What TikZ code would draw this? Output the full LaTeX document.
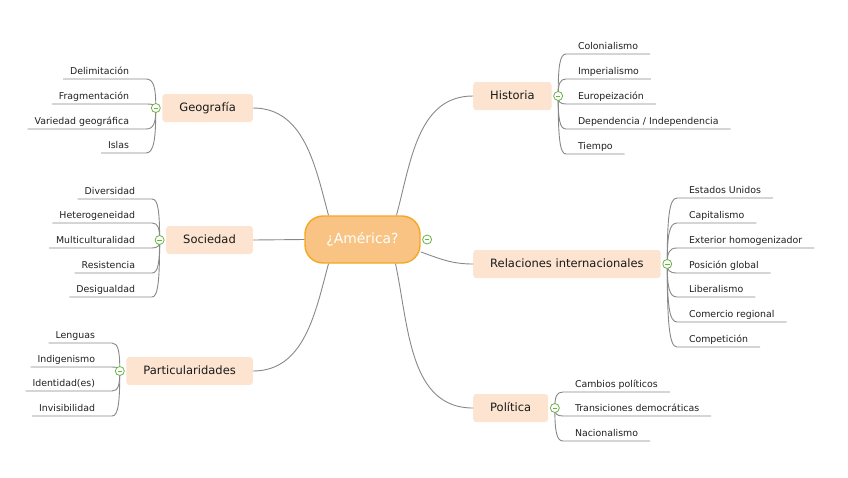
\documentclass[tikz,border=0pt]{standalone}
\usepackage{fontspec}
\setmainfont{DejaVu Sans}
\usetikzlibrary{positioning, calc}
\definecolor{rootfill}{HTML}{F9C483}
\definecolor{rootline}{HTML}{F5A623}
\definecolor{topicfill}{HTML}{FCE4D0}
\definecolor{linkgray}{HTML}{888888}
\definecolor{foldgreen}{HTML}{6AB344}
\definecolor{leaftext}{HTML}{1F1F1F}
\pgfdeclarelayer{background}
\pgfsetlayers{background,main}
\tikzset{
  root/.style={rectangle, rounded corners=18pt, draw=rootline, fill=rootfill, line width=1.4pt, text=white, font=\fontsize{13.9}{16}\selectfont, minimum width=115pt, minimum height=47pt},
  topic/.style={rectangle, rounded corners=3pt, fill=topicfill, text=black!90, font=\fontsize{11.5}{14}\selectfont, inner xsep=17pt, minimum height=28pt, text height=8.5pt, text depth=2.5pt},
  leaf/.style={text=leaftext, font=\fontsize{9.4}{11}\selectfont, inner ysep=2pt, outer sep=0pt, text height=7pt, text depth=2.5pt},
  leafL/.style={leaf, inner xsep=7pt, anchor=south east},
  leafR/.style={leaf, inner xsep=12pt, anchor=south west},
  fold/.style={circle, draw=foldgreen, fill=white, line width=0.8pt, minimum size=9pt, inner sep=0pt, path picture={\draw[foldgreen, line width=0.9pt] ([xshift=-2.3pt]path picture bounding box.center) -- ([xshift=2.3pt]path picture bounding box.center);}},
  link/.style={draw=linkgray, line width=0.9pt}
}
\newcommand{\fanlink}[3]{%
  \draw[link] (#1) .. controls ($(#1)!0.7!(#1 |- #2)$) and ($(#2)!0.8!(#1 |- #2)$) .. (#2) -- (#3);
}

\begin{document}
\begin{tikzpicture}[x=1pt, y=-1pt]
  \useasboundingbox (0,0) rectangle (848,477);

  % ROOT
  \node[root] (America) at (362.5,239.5) {¿América?};
  \node[fold, right=1.5pt of America] (AmericaFold) {};

  % MAIN TOPICS - left side
  \node[topic, anchor=east] (Geo) at (253,108) {Geografía};
  \node[topic, anchor=east] (Soc) at (253,240) {Sociedad};
  \node[topic, anchor=east] (Part) at (253,371) {Particularidades};
  \node[fold, left=1.5pt of Geo] (GeoFold) {};
  \node[fold, left=1.5pt of Soc] (SocFold) {};
  \node[fold, left=1.5pt of Part] (PartFold) {};

  % MAIN TOPICS - right side
  \node[topic, anchor=west] (Hist) at (473,96) {Historia};
  \node[topic, anchor=west] (RelInt) at (473,264) {Relaciones internacionales};
  \node[topic, anchor=west] (Pol) at (473,408) {Política};
  \node[fold, right=1.5pt of Hist] (HistFold) {};
  \node[fold, right=1.5pt of RelInt] (RelIntFold) {};
  \node[fold, right=1.5pt of Pol] (PolFold) {};

  % Root to topics
  \draw[link] ([xshift=-34pt]America.north) to[out=105, in=0] (Geo.east);
  \draw[link] (America.west) -- (Soc.east);
  \draw[link] ([xshift=-34pt]America.south) to[out=-105, in=0] (Part.east);
  \draw[link] ([xshift=34pt]America.north) to[out=75, in=180] (Hist.west);
  \draw[link] (America.-12) to[out=-20, in=180] (RelInt.west);
  \draw[link] ([xshift=33pt]America.south) to[out=-78, in=180] (Pol.west);

  % LEAVES - left side
  \foreach \y/\t [count=\i] in {79/Delimitación, 104/Fragmentación, 129/Variedad geográfica, 153/Islas}{
    \node[leafL] (Geo\i) at (136,\y) {\t};
    \coordinate (GeoEnd\i) at ([xshift=10pt]Geo\i.south east);
    \begin{pgfonlayer}{background}
      \fanlink{GeoFold.center}{GeoEnd\i}{Geo\i.south west}
    \end{pgfonlayer}
  }
  \foreach \y/\t [count=\i] in {199/Diversidad, 223/Heterogeneidad, 248/Multiculturalidad, 273/Resistencia, 297/Desigualdad}{
    \node[leafL] (Soc\i) at (142,\y) {\t};
    \coordinate (SocEnd\i) at ([xshift=10pt]Soc\i.south east);
    \begin{pgfonlayer}{background}
      \fanlink{SocFold.center}{SocEnd\i}{Soc\i.south west}
    \end{pgfonlayer}
  }
  \foreach \y/\t [count=\i] in {343/Lenguas, 367/Indigenismo, 391/Identidad(es), 416/Invisibilidad}{
    \node[leafL] (Part\i) at (102,\y) {\t};
    \coordinate (PartEnd\i) at ([xshift=10pt]Part\i.south east);
    \begin{pgfonlayer}{background}
      \fanlink{PartFold.center}{PartEnd\i}{Part\i.south west}
    \end{pgfonlayer}
  }

  % LEAVES - right side
  \foreach \y/\t [count=\i] in {54/Colonialismo, 79/Imperialismo, 104/Europeización, 129/{Dependencia / Independencia}, 154/Tiempo}{
    \node[leafR] (Hist\i) at (566,\y) {\t};
    \begin{pgfonlayer}{background}
      \fanlink{HistFold.center}{Hist\i.south west}{Hist\i.south east}
    \end{pgfonlayer}
  }
  \foreach \y/\t [count=\i] in {198/Estados Unidos, 223/Capitalismo, 248/Exterior homogenizador, 273/Posición global, 297/Liberalismo, 322/Comercio regional, 347/Competición}{
    \node[leafR] (RelInt\i) at (677,\y) {\t};
    \begin{pgfonlayer}{background}
      \fanlink{RelIntFold.center}{RelInt\i.south west}{RelInt\i.south east}
    \end{pgfonlayer}
  }
  \foreach \y/\t [count=\i] in {392/Cambios políticos, 416/Transiciones democráticas, 441/Nacionalismo}{
    \node[leafR] (Pol\i) at (563,\y) {\t};
    \begin{pgfonlayer}{background}
      \fanlink{PolFold.center}{Pol\i.south west}{Pol\i.south east}
    \end{pgfonlayer}
  }

\end{tikzpicture}
\end{document}
